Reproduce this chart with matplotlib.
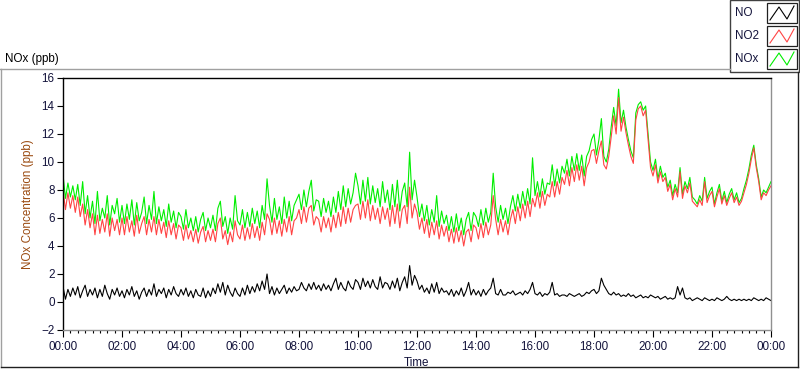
import numpy as np
import pandas as pd
import matplotlib
matplotlib.use("Agg")
import matplotlib.pyplot as plt
import matplotlib.dates as mdates
from matplotlib.lines import Line2D
from matplotlib.patches import Rectangle

# 5-minute readings, 00:00 .. 24:00 (one row per hour)
no2 = [
    8.0, 6.6, 7.8, 6.7, 7.6, 6.4, 7.5, 6.1, 7.0, 5.5, 6.6, 5.3,
    6.3, 4.8, 6.2, 4.9, 5.9, 5.0, 6.3, 4.7, 6.0, 5.1, 5.9, 4.8,
    6.0, 4.8, 6.1, 5.0, 5.8, 4.7, 6.2, 4.9, 5.6, 6.1, 4.8, 5.9,
    5.0, 6.1, 4.8, 5.9, 4.9, 5.7, 4.6, 5.8, 4.8, 5.6, 4.5, 5.5,
    5.3, 4.4, 5.5, 4.5, 5.1, 4.3, 5.2, 4.2, 5.0, 5.4, 4.3, 5.1,
    4.4, 5.2, 4.3, 5.6, 6.0, 4.5, 5.1, 4.1, 5.0, 4.3, 5.8, 4.8,
    4.5, 5.5, 4.4, 5.3, 4.5, 5.6, 4.6, 5.4, 4.4, 5.7, 4.8, 6.3,
    5.9, 4.8, 6.0, 4.9, 5.8, 4.7, 5.9, 5.0, 6.1, 4.8, 5.8, 6.0,
    6.6, 5.6, 6.8, 5.7, 6.7, 6.9, 5.5, 6.1, 5.9, 5.0, 6.1, 5.3,
    6.0, 5.0, 6.2, 5.3, 6.4, 5.4, 6.8, 5.6, 6.7, 5.7, 6.6, 6.9,
    7.0, 5.9, 7.2, 6.0, 7.3, 5.8, 6.9, 5.9, 6.7, 5.6, 6.8, 5.9,
    6.7, 5.4, 6.9, 5.6, 7.0, 5.3, 6.6, 6.9, 5.6, 8.2, 6.0, 7.0,
    6.4, 5.2, 6.0, 4.9, 5.9, 4.6, 5.7, 4.8, 5.8, 4.5, 5.5, 4.7,
    5.4, 4.3, 5.2, 4.2, 5.3, 4.3, 5.1, 4.0, 5.0, 5.2, 4.3, 5.5,
    5.3, 4.5, 5.6, 4.6, 5.7, 4.8, 5.5, 7.6, 5.9, 4.8, 5.9, 5.0,
    5.8, 4.8, 5.9, 6.6, 5.6, 6.8, 5.8, 7.0, 6.0, 7.2, 6.1, 7.4,
    6.8, 7.8, 6.7, 7.9, 6.9, 7.7, 7.5, 8.6, 7.5, 8.6, 7.7, 8.9,
    8.4, 9.4, 8.3, 9.6, 8.6, 9.8, 8.7, 9.7, 8.3, 9.6, 10.0, 10.8,
    10.9, 9.9, 10.8, 11.5, 9.8, 9.5, 10.4, 11.8, 13.3, 12.0, 14.6, 12.2,
    13.2, 12.1, 11.2, 10.4, 9.9, 13.0, 13.8, 14.0, 13.3, 13.7, 11.6, 9.6,
    9.0, 9.8, 8.5, 9.3, 8.6, 8.9, 7.9, 8.4, 7.3, 8.1, 7.5, 9.3,
    7.4, 8.3, 7.8, 8.5, 7.2, 7.0, 6.8, 7.3, 6.9, 8.6, 7.1, 7.6,
    7.9, 6.8, 7.5, 8.1, 7.0, 7.6, 6.9, 7.4, 7.8, 7.1, 7.5, 6.9,
    7.2, 7.8, 8.4, 9.2, 10.2, 11.0, 9.6, 8.6, 7.3, 7.8, 7.6, 8.0,
    8.3,
]

nox = [
    9.1, 7.4, 8.5, 7.5, 8.3, 7.3, 8.4, 6.9, 8.6, 6.3, 7.6, 6.0,
    7.2, 5.6, 7.9, 5.8, 6.7, 6.0, 7.6, 5.5, 6.9, 6.3, 7.4, 5.7,
    6.9, 5.6, 7.0, 5.9, 7.3, 5.5, 7.1, 5.8, 6.4, 7.5, 5.6, 6.9,
    5.9, 7.9, 5.6, 6.8, 5.8, 6.6, 5.4, 7.0, 5.7, 6.5, 5.3, 6.4,
    6.1, 5.2, 6.6, 5.3, 6.0, 5.1, 6.1, 5.0, 5.9, 6.4, 5.1, 6.0,
    5.3, 6.2, 5.1, 6.7, 7.2, 5.4, 6.1, 4.9, 6.0, 5.2, 7.6, 5.8,
    5.5, 6.6, 5.3, 6.4, 5.4, 6.7, 5.6, 6.5, 5.3, 6.9, 5.9, 8.8,
    6.9, 5.7, 7.4, 5.9, 6.8, 5.6, 7.5, 6.0, 7.2, 5.8, 6.9, 7.3,
    7.7, 6.6, 8.0, 6.8, 7.9, 8.7, 6.5, 7.3, 7.2, 6.1, 7.4, 6.4,
    7.2, 6.1, 7.5, 6.4, 7.9, 6.6, 8.3, 6.8, 8.1, 7.0, 7.8, 9.2,
    8.3, 7.0, 8.7, 7.2, 8.9, 7.0, 8.3, 7.1, 8.1, 6.8, 8.6, 7.1,
    8.0, 6.6, 8.4, 6.8, 8.7, 6.5, 7.9, 8.5, 6.8, 10.7, 7.3, 8.7,
    7.5, 6.1, 7.0, 5.8, 6.9, 5.5, 6.6, 5.7, 7.6, 5.4, 6.5, 5.6,
    6.2, 5.1, 6.1, 5.0, 6.3, 5.1, 6.0, 4.8, 5.9, 6.4, 5.1, 6.4,
    6.1, 5.4, 6.6, 5.5, 6.7, 5.7, 6.4, 9.2, 6.8, 5.7, 6.9, 5.9,
    6.7, 5.6, 6.8, 7.6, 6.5, 7.7, 6.7, 7.9, 6.9, 8.1, 7.0, 10.3,
    7.6, 8.6, 7.5, 8.8, 7.7, 8.5, 8.4, 9.8, 8.3, 9.5, 8.5, 9.7,
    9.2, 10.2, 9.0, 10.4, 9.4, 10.6, 9.4, 10.5, 9.0, 10.4, 10.8, 11.6,
    12.0, 10.5, 11.6, 13.1, 10.4, 10.0, 10.9, 12.5, 13.9, 12.6, 15.2, 12.8,
    13.7, 12.5, 11.6, 10.8, 10.3, 13.5, 14.1, 14.3, 13.7, 14.0, 12.0, 10.0,
    9.4, 10.2, 8.8, 9.7, 8.9, 9.2, 8.2, 8.7, 7.6, 8.4, 7.8, 9.6,
    7.7, 8.6, 8.1, 8.9, 7.5, 7.3, 7.0, 7.6, 7.2, 8.9, 7.4, 7.9,
    8.2, 7.0, 7.8, 8.4, 7.2, 7.9, 7.1, 7.7, 8.1, 7.3, 7.8, 7.1,
    7.4, 8.1, 8.7, 9.5, 10.5, 11.2, 9.8, 8.8, 7.5, 8.0, 7.8, 8.2,
    8.6,
]

no = [
    1.1, 0.2, 0.9, 0.4, 1.0, 0.5, 1.1, 0.3, 0.8, 1.2, 0.4, 0.9,
    0.5, 1.0, 0.3, 0.9, 0.4, 1.2, 0.6, 0.2, 0.9, 0.5, 1.0, 0.4,
    0.8, 0.3, 0.9, 0.5, 1.1, 0.4, 0.8, 0.2, 0.7, 1.0, 0.4, 0.9,
    0.5, 1.3, 0.4, 0.9, 0.6, 1.0, 0.3, 0.9, 0.5, 1.1, 0.6, 0.4,
    0.9, 0.5, 1.0, 0.4, 0.8, 0.3, 0.9, 0.5, 0.4, 1.0, 0.3, 0.8,
    0.4, 1.0, 0.6, 1.3, 0.7, 1.4, 0.5, 1.2, 0.7, 0.4, 1.0, 0.6,
    0.4, 1.0, 0.5, 1.2, 0.6, 1.1, 0.7, 1.3, 0.8, 1.5, 0.9, 2.0,
    0.6, 1.1, 0.5, 1.0, 0.6, 0.9, 1.2, 0.6, 1.0, 0.7, 1.1, 0.8,
    0.9, 1.4, 1.0, 0.8, 1.3, 0.9, 1.4, 0.9, 1.2, 0.8, 1.3, 0.9,
    1.2, 0.8, 1.3, 1.7, 0.9, 1.4, 1.0, 0.8, 1.5, 1.1, 0.9, 1.6,
    1.4, 0.9, 1.7, 1.1, 1.5, 1.0, 1.6, 1.1, 0.9, 1.8, 1.0, 1.4,
    1.3, 0.9, 1.5, 1.0, 1.7, 0.8, 1.4, 1.8, 1.0, 2.6, 1.2, 1.9,
    1.5, 0.9, 1.2, 0.7, 1.0, 0.6, 1.3, 0.7, 1.4, 0.6, 1.0, 0.7,
    0.8, 0.5, 0.9, 0.4, 0.8, 0.5, 1.0, 0.4, 0.8, 1.4, 0.5, 0.9,
    0.5, 0.8, 0.4, 0.9, 0.5, 0.8, 1.0, 1.7, 0.6, 0.5, 0.9, 0.5,
    0.5, 0.7, 0.6, 0.8, 0.5, 0.6, 0.7, 0.5, 0.8, 0.6, 0.9, 1.4,
    0.6, 0.5, 0.7, 0.4, 0.6, 0.5, 0.7, 1.4, 0.5, 0.6, 0.4, 0.5,
    0.5, 0.4, 0.6, 0.5, 0.4, 0.5, 0.6, 0.4, 0.5, 0.7, 0.6, 0.8,
    0.9, 0.6, 0.8, 1.7, 1.2, 0.9, 0.6, 0.5, 0.7, 0.5, 0.6, 0.4,
    0.5, 0.4, 0.6, 0.4, 0.5, 0.3, 0.4, 0.5, 0.3, 0.4, 0.3, 0.5,
    0.4, 0.3, 0.4, 0.2, 0.3, 0.4, 0.2, 0.3, 0.2, 0.3, 1.1, 0.5,
    1.0, 0.3, 0.2, 0.3, 0.1, 0.2, 0.3, 0.2, 0.1, 0.3, 0.2, 0.1,
    0.2, 0.1, 0.3, 0.2, 0.1, 0.2, 0.4, 0.2, 0.1, 0.2, 0.1, 0.2,
    0.1, 0.2, 0.1, 0.2, 0.1, 0.3, 0.2, 0.1, 0.2, 0.1, 0.3, 0.2,
    0.1,
]

series_names = ["NO", "NO2", "NOx"]
series_colors = ["#000000", "#ff4444", "#00ee00"]
yticks = [-2, 0, 2, 4, 6, 8, 10, 12, 14, 16]

t = pd.date_range("2020-01-01 00:00", "2020-01-02 00:00", freq="5min")

W, H = 800, 369
plt.rcParams['font.family'] = ['Liberation Sans', 'DejaVu Sans']
fig = plt.figure(figsize=(W / 100, H / 100), dpi=100)


def px(x, y):
    # figure pixel coords (top-left origin) -> figure fraction
    return x / W, 1 - y / H


navy = "#14143c"

# panel frame
fig.add_artist(Line2D([0 / W, 730 / W], [1 - 69 / H] * 2, color="#a0a0a0", lw=1.0))
fig.add_artist(Line2D([1 / W] * 2, [1 - 69 / H, 1 - 367 / H], color="#a0a0a0", lw=1.0))
fig.add_artist(Line2D([1 / W, 798 / W], [1 - 367 / H] * 2, color="#202020", lw=1.0))
fig.add_artist(Line2D([798 / W] * 2, [1 - 72 / H, 1 - 367 / H], color="#202020", lw=1.0))

fig.text(*px(5, 59), "NOx (ppb)", fontsize=8.4, color="#000000", va="center", ha="left")

# legend box
fig.add_artist(Rectangle(px(730, 72), 69 / W, 72 / H, transform=fig.transFigure,
                         facecolor="white", edgecolor="#404040", lw=1.0))
for i, (name, col) in enumerate(zip(series_names, series_colors)):
    yc = 13 + i * 23
    fig.text(*px(735, yc), name, fontsize=8.4, color=navy, va="center", ha="left")
    fig.add_artist(Rectangle(px(767, yc + 10), 30 / W, 20 / H, transform=fig.transFigure,
                             facecolor="white", edgecolor="#202020", lw=0.9))
    zx = [770, 779, 787, 794]
    zy = [yc + 7, yc - 6, yc + 6, yc - 7]
    fig.add_artist(Line2D([x / W for x in zx], [1 - y / H for y in zy], color=col, lw=0.8))

ax = fig.add_axes([63 / W, 1 - 330 / H, (771 - 63) / W, (330 - 78) / H])

ax.plot(t, nox, color=series_colors[2], lw=0.8)
ax.plot(t, no2, color=series_colors[1], lw=0.8)
ax.plot(t, no, color=series_colors[0], lw=0.8)

ax.set_xlim(t[0], t[-1])
ax.set_ylim(-2, 16)
ax.set_yticks(yticks)
ax.xaxis.set_major_locator(mdates.HourLocator(byhour=range(0, 24, 2)))
ax.xaxis.set_minor_locator(mdates.MinuteLocator(byminute=[0, 15, 30, 45]))
ax.xaxis.set_major_formatter(mdates.DateFormatter("%H:%M"))

ax.tick_params(axis="both", which="major", labelsize=8.4, labelcolor=navy, color="black",
               length=4, width=0.8, direction="out", pad=2)
ax.tick_params(axis="x", which="minor", length=2.5, width=0.8, color="black")
ax.tick_params(axis="x", which="major", length=5, pad=3)

for s in ["top", "left"]:
    ax.spines[s].set_color("black")
for s in ["right", "bottom"]:
    ax.spines[s].set_color("#909090")
for s in ax.spines.values():
    s.set_linewidth(1.0)

ax.set_xlabel("Time", fontsize=8.4, color=navy, labelpad=3)
ax.set_ylabel("NOx Concentration (ppb)", fontsize=8.4, color="#9a4a10", labelpad=5)

fig.savefig("out.png", dpi=100, facecolor="white")
